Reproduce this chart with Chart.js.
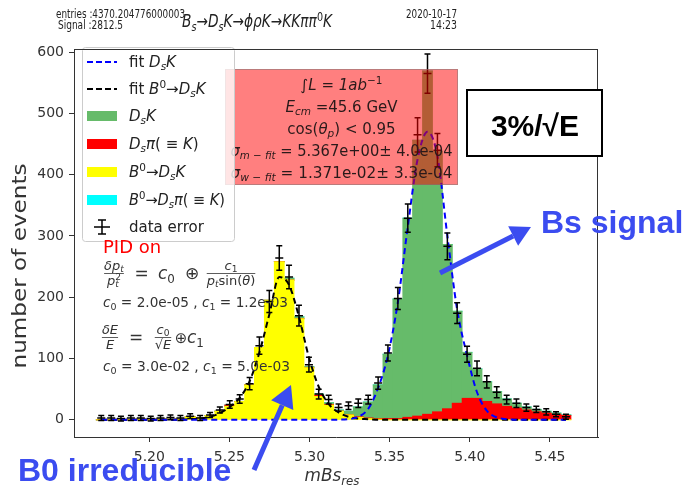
<!DOCTYPE html>
<html>
<head>
<meta charset="utf-8">
<script src="https://cdn.jsdelivr.net/npm/chart.js@4.4.1/dist/chart.umd.min.js"></script>
<style>
  html, body { margin: 0; padding: 0; background: #fff; }
  #wrap { width: 694px; height: 488px; }
</style>
</head>
<body>
<div id="wrap"><canvas id="c" width="694" height="488"></canvas></div>
<script>
// bin positions (mBs_res)
const mBs = [5.1700, 5.1762, 5.1823, 5.1885, 5.1947, 5.2009, 5.2070, 5.2132, 5.2194, 5.2255,
             5.2317, 5.2379, 5.2440, 5.2502, 5.2564, 5.2626, 5.2687, 5.2749, 5.2811, 5.2872,
             5.2934, 5.2996, 5.3057, 5.3119, 5.3181, 5.3243, 5.3304, 5.3366, 5.3428, 5.3489,
             5.3551, 5.3613, 5.3674, 5.3736, 5.3798, 5.3860, 5.3921, 5.3983, 5.4045, 5.4106,
             5.4168, 5.4230, 5.4291, 5.4353, 5.4415, 5.4477, 5.4538, 5.4600];

// data points + errors
const dataCounts = [3, 3, 2, 3, 3, 2, 3, 4, 3, 6,
                    3, 8, 16, 25, 34, 59, 121, 193, 264, 233,
                    170, 90, 42, 33, 20, 23, 27, 33, 60, 109,
                    198, 329, 465, 565, 440, 283, 174, 107, 84, 62,
                    45, 33, 27, 20, 17, 13, 9, 5];
const dataErr = [4, 4, 4, 4, 4, 4, 4, 4, 4, 4,
                 4, 4, 5, 6, 7, 10, 14, 18, 20, 19,
                 17, 12, 8, 7, 6, 6, 7, 7, 10, 13,
                 18, 23, 28, 32, 27, 22, 17, 13, 12, 10,
                 9, 7, 7, 6, 5, 5, 4, 4];
const xErr = 0.0025;

// stacked histograms
const histB0DsK = [0, 0, 0, 0, 1, 0, 1, 1, 1, 5,
                   3, 7, 14, 22, 30, 57, 118, 195, 258, 228,
                   165, 85, 38, 24, 14, 8, 4, 2, 1, 0,
                   0, 0, 0, 0, 0, 0, 0, 0, 0, 0,
                   0, 0, 0, 0, 0, 0, 0, 0];
const histDsPi = [0, 0, 0, 0, 0, 0, 0, 0, 0, 0,
                  0, 0, 0, 2, 0, 0, 0, 0, 0, 0,
                  0, 0, 2, 1, 0, 0, 1, 1, 1, 2,
                  2, 4, 6, 9, 13, 18, 27, 35, 35, 30,
                  26, 22, 19, 16, 13, 11, 9, 7];
const histDsK = [0, 0, 0, 0, 0, 0, 0, 0, 0, 0,
                 0, 0, 0, 0, 0, 0, 0, 0, 0, 3,
                 3, 2, 2, 3, 2, 6, 16, 26, 55, 105,
                 195, 325, 450, 560, 425, 268, 150, 75, 48, 32,
                 20, 12, 8, 5, 4, 3, 2, 1];
const histB0DsPi = [0, 0, 0, 0, 0, 0, 0, 0, 0, 0,
                    0, 0, 0, 0, 0, 0, 0, 0, 0, 0,
                    0, 0, 0, 0, 0, 0, 0, 0, 0, 0,
                    0, 0, 0, 0, 0, 0, 0, 0, 0, 0,
                    0, 0, 0, 0, 0, 0, 0, 0];

// fit curves
const fitDsK = [0, 0, 0, 0, 0, 0, 0, 0, 0, 0,
                0, 0, 0, 0, 0, 0, 0, 0, 0, 0,
                0, 0, 0, 0, 0.3, 1, 5, 18, 52, 105,
                192, 315, 425, 470, 430, 300, 180, 105, 45, 15,
                4, 1, 0, 0, 0, 0, 0, 0];
const fitB0 = [0, 0, 0, 0, 0, 0, 0, 0, 0, 1,
               2, 5, 11, 21, 36, 63, 110, 172, 233, 220,
               168, 102, 54, 26, 12, 5, 2, 1, 0, 0,
               0, 0, 0, 0, 0, 0, 0, 0, 0, 0,
               0, 0, 0, 0, 0, 0, 0, 0];

const xTicks = [5.20, 5.25, 5.30, 5.35, 5.40, 5.45];
const yTicks = [0, 100, 200, 300, 400, 500, 600];

const FONT = '"DejaVu Sans", sans-serif';
const GREEN = '#66bb6a', RED = '#ff0000', YELLOW = '#ffff00', CYAN = '#00ffff';
const ANNO = '#3b4cf0';

const pts = arr => mBs.map((x, i) => ({ x: x, y: arr[i] }));

// text with italic / sub / sup pieces
function partsOf(ctx, parts, size, bold) {
  return parts.map(p => {
    const t = Array.isArray(p) ? p[0] : p;
    const f = Array.isArray(p) ? (p[1] || '') : '';
    const small = f.includes('_') || f.includes('^');
    const s = small ? size * 0.7 : size;
    const font = (f.includes('i') ? 'italic ' : '') + (bold ? 'bold ' : '') + s.toFixed(1) + 'px ' + FONT;
    ctx.font = font;
    return { t, f, font, w: ctx.measureText(t).width,
             dy: f.includes('_') ? size * 0.22 : f.includes('^') ? -size * 0.38 : 0 };
  });
}
function richWidth(ctx, parts, size) {
  let cx = 0, last = 0;
  partsOf(ctx, parts, size).forEach(it => {
    if (it.f.includes('k')) { cx += Math.max(0, it.w - last); } else { cx += it.w; last = it.w; }
  });
  return cx;
}
function rich(ctx, parts, x, y, size, opt) {
  opt = opt || {};
  const items = partsOf(ctx, parts, size, opt.bold);
  const w = richWidth(ctx, parts, size);
  const sx = opt.width ? opt.width / w : 1;
  const W = w * sx;
  const x0 = opt.align === 'center' ? x - W / 2 : opt.align === 'right' ? x - W : x;
  ctx.save();
  ctx.translate(x0, y);
  ctx.scale(sx, 1);
  ctx.fillStyle = opt.color || '#000';
  ctx.textAlign = 'left';
  ctx.textBaseline = 'alphabetic';
  let cx = 0, last = 0;
  items.forEach(it => {
    ctx.font = it.font;
    if (it.f.includes('k')) {
      ctx.fillText(it.t, cx - last, it.dy);
      cx += Math.max(0, it.w - last);
    } else {
      ctx.fillText(it.t, cx, it.dy);
      cx += it.w; last = it.w;
    }
  });
  ctx.restore();
  return W;
}
function frac(ctx, num, den, cx, barY, size, color) {
  const w = Math.max(richWidth(ctx, num, size), richWidth(ctx, den, size));
  rich(ctx, num, cx, barY - 4, size, { align: 'center', color });
  rich(ctx, den, cx, barY + size * 0.85, size, { align: 'center', color });
  ctx.strokeStyle = color; ctx.lineWidth = 0.8;
  ctx.beginPath(); ctx.moveTo(cx - w / 2, barY); ctx.lineTo(cx + w / 2, barY); ctx.stroke();
}
function arrow(ctx, x1, y1, x2, y2, lw, head, color) {
  const a = Math.atan2(y2 - y1, x2 - x1);
  const bx = x2 - head * Math.cos(a), by = y2 - head * Math.sin(a);
  const hw = head * 0.55;
  ctx.strokeStyle = color; ctx.lineWidth = lw; ctx.lineCap = 'butt';
  ctx.beginPath(); ctx.moveTo(x1, y1); ctx.lineTo(bx, by); ctx.stroke();
  ctx.fillStyle = color;
  ctx.beginPath();
  ctx.moveTo(x2, y2);
  ctx.lineTo(bx + hw * Math.sin(a), by - hw * Math.cos(a));
  ctx.lineTo(bx - hw * Math.sin(a), by + hw * Math.cos(a));
  ctx.closePath(); ctx.fill();
}

const overlay = {
  id: 'overlay',
  afterDatasetsDraw(chart) {
    const ctx = chart.ctx, xs = chart.scales.x, ys = chart.scales.y;
    // data error bars
    ctx.save();
    ctx.strokeStyle = '#000'; ctx.lineWidth = 1.5;
    mBs.forEach((m, i) => {
      const px = xs.getPixelForValue(m), py = ys.getPixelForValue(dataCounts[i]);
      const t = ys.getPixelForValue(dataCounts[i] + dataErr[i]);
      const b = ys.getPixelForValue(dataCounts[i] - dataErr[i]);
      const l = xs.getPixelForValue(m - xErr), r = xs.getPixelForValue(m + xErr);
      ctx.beginPath();
      ctx.moveTo(l, py); ctx.lineTo(r, py);
      ctx.moveTo(px, t); ctx.lineTo(px, b);
      ctx.moveTo(px - 3, t); ctx.lineTo(px + 3, t);
      ctx.moveTo(px - 3, b); ctx.lineTo(px + 3, b);
      ctx.stroke();
    });
    ctx.restore();

    // info box
    ctx.save();
    ctx.fillStyle = 'rgba(255,0,0,0.5)';
    ctx.fillRect(225, 69, 233, 116);
    ctx.strokeStyle = 'rgba(120,120,120,0.5)'; ctx.lineWidth = 1;
    ctx.strokeRect(225.5, 69.5, 232, 115);
    const bc = 341.5, tc = '#2a1a1a';
    rich(ctx, ['∫', ['L', 'i'], ' = ', ['1', 'i'], ['ab', 'i'], ['−1', '^']], bc, 90, 15, { align: 'center', color: tc });
    rich(ctx, [['E', 'i'], ['cm', 'i_'], ' =45.6 GeV'], bc, 112, 15, { align: 'center', color: tc });
    rich(ctx, ['cos(', ['θ', 'i'], ['p', 'i_'], ') < 0.95'], bc, 134, 15, { align: 'center', color: tc });
    rich(ctx, [['σ', 'i'], ['m − fit', 'i_'], ' = 5.367e+00± 4.0e-04'], bc, 156, 15, { align: 'center', color: tc, width: 222 });
    rich(ctx, [['σ', 'i'], ['w − fit', 'i_'], ' = 1.371e-02± 3.3e-04'], bc, 178, 15, { align: 'center', color: tc, width: 222 });
    ctx.restore();

    // legend
    ctx.save();
    ctx.fillStyle = 'rgba(255,255,255,0.8)';
    ctx.strokeStyle = '#cccccc'; ctx.lineWidth = 1;
    ctx.beginPath();
    ctx.roundRect(82.5, 47.5, 152, 194, 3);
    ctx.fill(); ctx.stroke();
    const hx = 87, hw = 30, tx = 129;
    const rows = [62, 89, 116, 144, 172, 200, 227];
    ctx.lineWidth = 2; ctx.setLineDash([6, 3]);
    ctx.strokeStyle = '#0000ff';
    ctx.beginPath(); ctx.moveTo(hx, rows[0]); ctx.lineTo(hx + hw, rows[0]); ctx.stroke();
    ctx.strokeStyle = '#000';
    ctx.beginPath(); ctx.moveTo(hx, rows[1]); ctx.lineTo(hx + hw, rows[1]); ctx.stroke();
    ctx.setLineDash([]);
    [[GREEN, 2], [RED, 3], [YELLOW, 4], [CYAN, 5]].forEach(([c, r]) => {
      ctx.fillStyle = c; ctx.fillRect(hx, rows[r] - 5, hw, 10);
    });
    ctx.strokeStyle = '#000'; ctx.lineWidth = 1.5;
    const ex = 102, ey = rows[6];
    ctx.beginPath();
    ctx.moveTo(ex - 8, ey); ctx.lineTo(ex + 8, ey);
    ctx.moveTo(ex, ey - 7); ctx.lineTo(ex, ey + 7);
    ctx.moveTo(ex - 4, ey - 7); ctx.lineTo(ex + 4, ey - 7);
    ctx.moveTo(ex - 4, ey + 7); ctx.lineTo(ex + 4, ey + 7);
    ctx.stroke();
    const lc = '#222', ls = 15;
    rich(ctx, ['fit ', ['D', 'i'], ['s', 'i_'], ['K', 'i']], tx, rows[0] + 5, ls, { color: lc });
    rich(ctx, ['fit ', ['B', 'i'], ['0', '^'], '→', ['D', 'i'], ['s', 'i_'], ['K', 'i']], tx, rows[1] + 5, ls, { color: lc });
    rich(ctx, [['D', 'i'], ['s', 'i_'], ['K', 'i']], tx, rows[2] + 5, ls, { color: lc });
    rich(ctx, [['D', 'i'], ['s', 'i_'], ['π', 'i'], '( ≡ ', ['K', 'i'], ')'], tx, rows[3] + 5, ls, { color: lc });
    rich(ctx, [['B', 'i'], ['0', '^'], '→', ['D', 'i'], ['s', 'i_'], ['K', 'i']], tx, rows[4] + 5, ls, { color: lc });
    rich(ctx, [['B', 'i'], ['0', '^'], '→', ['D', 'i'], ['s', 'i_'], ['π', 'i'], '( ≡ ', ['K', 'i'], ')'], tx, rows[5] + 5, ls, { color: lc, width: 96 });
    rich(ctx, ['data error'], tx, rows[6] + 5, ls, { color: lc });
    ctx.restore();

    // resolution text block
    ctx.save();
    rich(ctx, ['PID on'], 103, 253, 18, { color: '#ff0000' });
    const fc = '#333';
    frac(ctx, [['δ', 'i'], ['p', 'i'], ['t', 'i_']], [['p', 'i'], ['t', 'i_'], ['2', '^k']], 114, 273.5, 13, fc);
    rich(ctx, ['='], 141.5, 279, 17, { align: 'center', color: fc });
    rich(ctx, [['c', 'i'], ['0', '_']], 158, 279, 17, { color: fc });
    rich(ctx, ['⊕'], 192, 279, 17, { align: 'center', color: fc });
    frac(ctx, [['c', 'i'], ['1', '_']], [['p', 'i'], ['t', 'i_'], 'sin(', ['θ', 'i'], ')'], 231, 273.5, 13, fc);
    rich(ctx, [['c', 'i'], ['0', '_'], ' = 2.0e-05 , ', ['c', 'i'], ['1', '_'], ' = 1.2e-03'], 103, 307, 13.5, { color: fc, width: 185 });
    frac(ctx, [['δ', 'i'], ['E', 'i']], [['E', 'i']], 110, 337.5, 13, fc);
    rich(ctx, ['='], 136, 343, 17, { align: 'center', color: fc });
    frac(ctx, [['c', 'i'], ['0', '_']], ['√', ['E', 'i']], 163, 337.5, 13, fc);
    rich(ctx, ['⊕'], 181, 343, 15, { align: 'center', color: fc });
    rich(ctx, [['c', 'i'], ['1', '_']], 187, 343, 17, { color: fc });
    rich(ctx, [['c', 'i'], ['0', '_'], ' = 3.0e-02 , ', ['c', 'i'], ['1', '_'], ' = 5.0e-03'], 103, 371, 13.5, { color: fc, width: 187 });
    ctx.restore();
  },
  afterDraw(chart) {
    const ctx = chart.ctx, ca = chart.chartArea;
    ctx.save();
    // frame top / right
    ctx.strokeStyle = '#333'; ctx.lineWidth = 1;
    ctx.beginPath();
    ctx.moveTo(ca.left, ca.top + 0.5); ctx.lineTo(ca.right, ca.top + 0.5);
    ctx.moveTo(ca.right - 0.5, ca.top); ctx.lineTo(ca.right - 0.5, ca.bottom);
    ctx.stroke();

    // header
    const hc = '#222';
    rich(ctx, ['entries :4370.204776000003'], 56, 18, 12, { color: hc, width: 129 });
    rich(ctx, ['Signal :2812.5'], 58, 29, 12, { color: hc, width: 65 });
    rich(ctx, [['B', 'i'], ['s', 'i_'], '→', ['D', 'i'], ['s', 'i_'], ['K', 'i'], '→', ['ϕ', 'i'], ['ρ', 'i'], ['K', 'i'], '→',
               ['K', 'i'], ['K', 'i'], ['π', 'i'], ['π', 'i'], ['0', '^'], ['K', 'i']], 182, 27, 17, { color: hc, width: 150 });
    rich(ctx, ['2020-10-17'], 457, 18, 12, { color: hc, align: 'right', width: 51 });
    rich(ctx, ['14:23'], 457, 29, 12, { color: hc, align: 'right', width: 27 });

    // axis titles
    rich(ctx, [['mBs', 'i'], ['res', 'i_']], 332, 481, 17, { align: 'center', color: '#333', width: 55 });
    ctx.save();
    ctx.translate(26, 266);
    ctx.rotate(-Math.PI / 2);
    rich(ctx, ['number of events'], 0, 0, 19, { align: 'center', color: '#333', width: 205 });
    ctx.restore();

    // slide annotations
    ctx.fillStyle = '#fff';
    ctx.fillRect(466, 89, 137, 68);
    ctx.strokeStyle = '#000'; ctx.lineWidth = 2;
    ctx.strokeRect(467, 90, 135, 66);
    ctx.fillStyle = '#000';
    ctx.font = 'bold 30px "Liberation Sans", Arial, sans-serif';
    ctx.textAlign = 'center'; ctx.textBaseline = 'alphabetic';
    ctx.fillText('3%/√E', 535, 136);

    ctx.fillStyle = ANNO;
    ctx.font = 'bold 32px "Liberation Sans", Arial, sans-serif';
    ctx.textAlign = 'left';
    ctx.fillText('Bs signal', 541, 233);
    ctx.fillText('B0 irreducible', 18, 481);
    arrow(ctx, 440, 273, 531, 227, 5, 20, ANNO);
    arrow(ctx, 254, 470, 291, 385, 5, 22, ANNO);
    ctx.restore();
  }
};

new Chart(document.getElementById('c'), {
  type: 'bar',
  data: {
    datasets: [
      { type: 'line', label: 'fit DsK', data: pts(fitDsK), stack: 'f1', order: 0,
        borderColor: '#0000ff', borderWidth: 2, borderDash: [6, 4], pointRadius: 0,
        fill: false, cubicInterpolationMode: 'monotone' },
      { type: 'line', label: 'fit B0->DsK', data: pts(fitB0), stack: 'f2', order: 0,
        borderColor: '#000000', borderWidth: 2, borderDash: [6, 4], pointRadius: 0,
        fill: false, cubicInterpolationMode: 'monotone' },
      { label: 'B0->DsK', data: pts(histB0DsK), backgroundColor: YELLOW, stack: 'h', order: 1 },
      { label: 'DsPi', data: pts(histDsPi), backgroundColor: RED, stack: 'h', order: 1 },
      { label: 'DsK', data: pts(histDsK), backgroundColor: GREEN, stack: 'h', order: 1 },
      { label: 'B0->DsPi', data: pts(histB0DsPi), backgroundColor: CYAN, stack: 'h', order: 1 }
    ]
  },
  options: {
    responsive: false,
    animation: false,
    devicePixelRatio: 1,
    layout: { padding: { top: 49, right: 96, left: 0, bottom: 0 } },
    datasets: { bar: { barPercentage: 1, categoryPercentage: 1, borderWidth: 0, inflateAmount: 0.5 } },
    plugins: { legend: { display: false }, tooltip: { enabled: false }, title: { display: false } },
    scales: {
      x: {
        type: 'linear', min: 5.153, max: 5.48, stacked: true, offset: false,
        afterBuildTicks: s => { s.ticks = xTicks.map(v => ({ value: v })); },
        afterFit: s => { s.height = 51; },
        ticks: { includeBounds: false, autoSkip: false, maxRotation: 0, padding: 7,
                 color: '#333', font: { family: 'DejaVu Sans', size: 14 },
                 callback: v => v.toFixed(2) },
        grid: { display: true, drawOnChartArea: false, drawTicks: true, tickLength: 5,
                tickColor: '#333', offset: false },
        border: { display: true, color: '#333', width: 1 }
      },
      y: {
        min: -28, max: 605, stacked: true,
        afterBuildTicks: s => { s.ticks = yTicks.map(v => ({ value: v })); },
        afterFit: s => { s.width = 74; },
        ticks: { includeBounds: false, padding: 5, color: '#333',
                 font: { family: 'DejaVu Sans', size: 14 } },
        grid: { display: true, drawOnChartArea: false, drawTicks: true, tickLength: 5,
                tickColor: '#333' },
        border: { display: true, color: '#333', width: 1 }
      }
    }
  },
  plugins: [overlay]
});
</script>
</body>
</html>
